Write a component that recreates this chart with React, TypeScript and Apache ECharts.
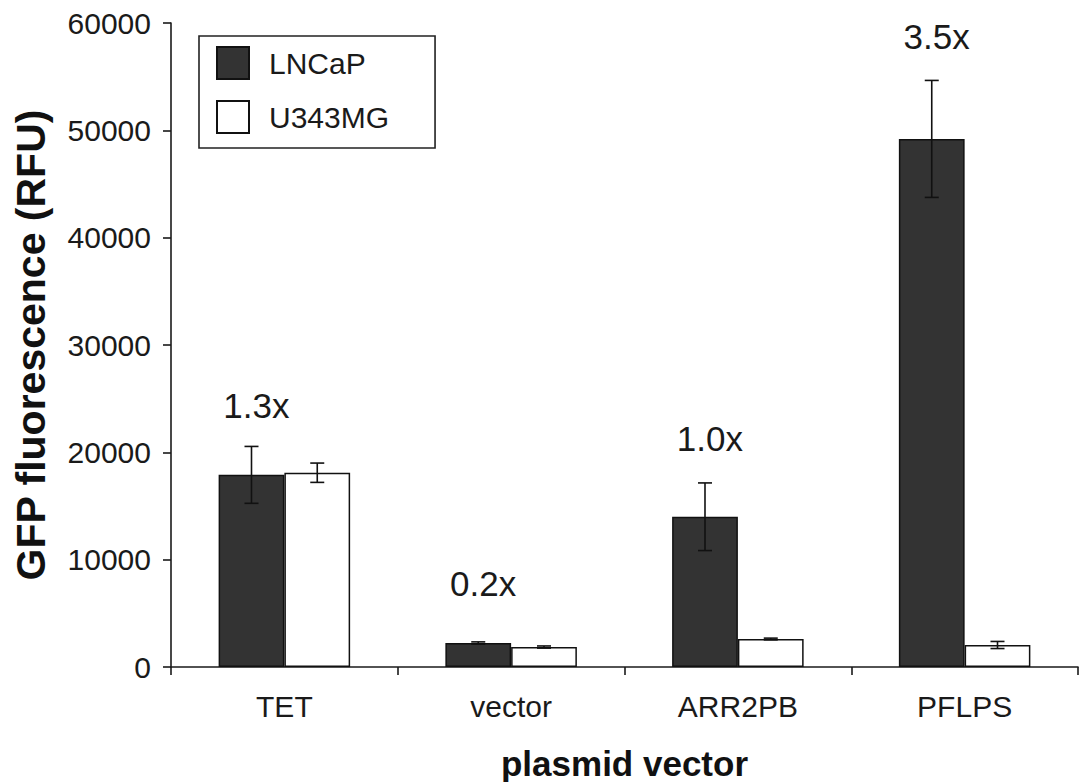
import React, { useEffect, useRef } from "react";
import * as echarts from "echarts";

const categories = ["TET", "vector", "ARR2PB", "PFLPS"];
const lncapMean = [17900, 2240, 14000, 49200];
const lncapErr = [2650, 100, 3150, 5450];
const u343Mean = [18100, 1860, 2610, 2050];
const u343Err = [900, 100, 80, 330];
const foldLabels = ["1.3x", "0.2x", "1.0x", "3.5x"];
const foldLabelY = [24400, 7800, 21300, 58700];
const yTicks = [0, 10000, 20000, 30000, 40000, 50000, 60000];

const FONT = "Liberation Sans, Arial, sans-serif";
const INK = "#1a1a1a";
const CAT_GAP = 0.42;

function errorSeries(name: string, means: number[], errs: number[], side: number) {
  return {
    type: "custom",
    name: name + "-err",
    coordinateSystem: "cartesian2d",
    silent: true,
    z: 5,
    data: means.map((m, i) => [i, m - errs[i], m + errs[i]]),
    renderItem: (params: any, api: any) => {
      const band = api.size([1, 0])[0];
      const barW = (band * (1 - CAT_GAP)) / 2;
      const lo = api.coord([api.value(0), api.value(1)]);
      const hi = api.coord([api.value(0), api.value(2)]);
      const x = lo[0] + side * (barW / 2);
      const cap = 7;
      const style = { stroke: "#111", lineWidth: 1.6 };
      return {
        type: "group",
        children: [
          { type: "line", shape: { x1: x, y1: lo[1], x2: x, y2: hi[1] }, style },
          { type: "line", shape: { x1: x - cap, y1: lo[1], x2: x + cap, y2: lo[1] }, style },
          { type: "line", shape: { x1: x - cap, y1: hi[1], x2: x + cap, y2: hi[1] }, style },
        ],
      };
    },
  };
}

export default function App() {
  const ref = useRef<HTMLDivElement>(null);
  useEffect(() => {
    document.body.style.margin = "0";
    const chart = echarts.init(ref.current!, undefined, { renderer: "svg" });
    chart.setOption({
      animation: false,
      backgroundColor: "#fff",
      textStyle: { fontFamily: FONT },
      grid: { left: 171, right: 1, top: 23, bottom: 115, containLabel: false, outerBoundsMode: "none" },
      legend: {
        orient: "vertical",
        left: 199,
        top: 36,
        data: ["LNCaP", "U343MG"],
        icon: "rect",
        itemWidth: 32,
        itemHeight: 32,
        itemGap: 20,
        padding: [10, 46, 14, 17],
        borderColor: "#222",
        borderWidth: 1.6,
        backgroundColor: "#fff",
        textStyle: { fontSize: 30, lineHeight: 32, color: INK, fontFamily: FONT, padding: [0, 0, 0, 15] },
      },
      xAxis: {
        type: "category",
        data: categories,
        name: "plasmid vector",
        nameLocation: "middle",
        nameGap: 79,
        nameTextStyle: { fontSize: 35, fontWeight: "bold", color: "#111", fontFamily: FONT },
        axisLine: { lineStyle: { color: INK, width: 1.6 } },
        axisTick: { show: true, length: 8, inside: false, alignWithLabel: false, lineStyle: { color: INK, width: 1.6 } },
        axisLabel: { fontSize: 30, color: INK, margin: 24, fontFamily: FONT },
        splitLine: { show: false },
      },
      yAxis: {
        type: "value",
        min: 0,
        max: 60000,
        interval: 10000,
        name: "GFP fluorescence (RFU)",
        nameLocation: "middle",
        nameGap: 120,
        nameTextStyle: { fontSize: 41, fontWeight: "bold", color: "#111", fontFamily: FONT },
        axisLine: { show: true, lineStyle: { color: INK, width: 1.6 } },
        axisTick: { show: true, length: 8, lineStyle: { color: INK, width: 1.6 } },
        axisLabel: {
          fontSize: 30,
          color: INK,
          margin: 20,
          fontFamily: FONT,
          formatter: (v: number) => (yTicks.includes(v) ? String(v) : ""),
        },
        splitLine: { show: false },
      },
      series: [
        {
          type: "bar",
          name: "LNCaP",
          data: lncapMean,
          barGap: "0%",
          barCategoryGap: CAT_GAP * 100 + "%",
          itemStyle: { color: "#333333", borderColor: "#111", borderWidth: 1.5 },
        },
        {
          type: "bar",
          name: "U343MG",
          data: u343Mean,
          barGap: "0%",
          barCategoryGap: CAT_GAP * 100 + "%",
          itemStyle: { color: "#ffffff", borderColor: "#111", borderWidth: 1.5 },
        },
        errorSeries("LNCaP", lncapMean, lncapErr, -1),
        errorSeries("U343MG", u343Mean, u343Err, 1),
        {
          type: "scatter",
          name: "fold",
          symbolSize: 0,
          silent: true,
          itemStyle: { opacity: 1, color: INK },
          data: foldLabels.map((t, i) => ({ name: t, value: [i, foldLabelY[i]] })),
          label: {
            show: true,
            position: "inside",
            offset: [-28, 0],
            formatter: (p: any) => p.name,
            fontSize: 35,
            color: INK,
            opacity: 1,
            textBorderWidth: 0,
            fontFamily: FONT,
          },
        },
      ],
    });
    return () => chart.dispose();
  }, []);
  return <div ref={ref} style={{ width: 1079, height: 782 }} />;
}
